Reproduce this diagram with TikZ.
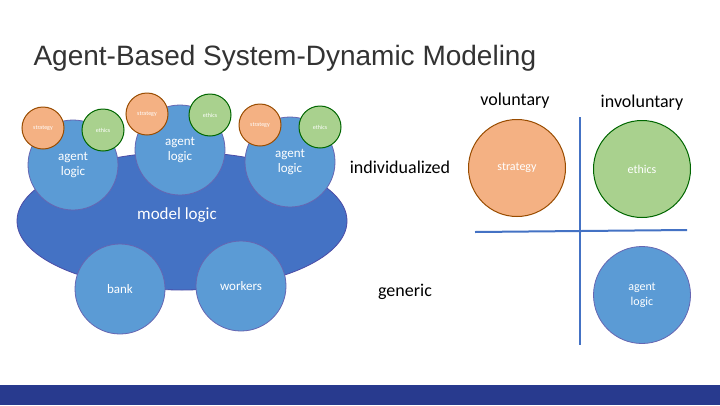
\documentclass[tikz,border=0pt]{standalone}
\usepackage{fontspec}
\usetikzlibrary{shapes.geometric}
\setmainfont{Carlito}
\newfontfamily\titlefont{Liberation Sans}
\begin{document}
\begin{tikzpicture}[x=1pt,y=-1pt,
  blu/.style={circle,draw=blue!50!black!60,fill=bluef,line width=0.8pt,text=white,align=center,inner sep=0pt},
  org/.style={circle,draw=orange!60!black,fill=orangef,line width=1pt,text=white,inner sep=0pt},
  grn/.style={circle,draw=green!40!black,fill=greenf,line width=1pt,text=white,inner sep=0pt},
  lab/.style={font=\fontsize{18}{20}\selectfont,text=black},
  axis/.style={draw=axisc,line width=2pt}]
\definecolor{bluef}{HTML}{5B9BD5}
\definecolor{darkf}{HTML}{4472C4}
\definecolor{orangef}{HTML}{F4B183}
\definecolor{greenf}{HTML}{A9D18E}
\definecolor{axisc}{HTML}{4472C4}
\definecolor{barc}{HTML}{283A8E}
\useasboundingbox (0,0) rectangle (720,405);
\fill[white] (0,0) rectangle (720,405);
\node[anchor=west,font=\titlefont\fontsize{28}{32}\selectfont,text=black!80] (title) at (30,58) {Agent-Based System-Dynamic Modeling};
% model
\node[ellipse,draw=blue!50!black!70,fill=darkf,minimum width=330pt,minimum height=138pt,inner sep=0pt,line width=0.8pt] (model) at (182,221) {};
\node[text=white,font=\fontsize{17}{19}\selectfont] (mlab) at (177,215) {model logic};
\node[blu,minimum size=90pt,font=\fontsize{13}{14}\selectfont] (bank) at (120,289) {bank};
\node[blu,minimum size=90pt,font=\fontsize{13}{14}\selectfont] (workers) at (241,286) {workers};
\node[blu,minimum size=90pt,font=\fontsize{13}{15}\selectfont] (a1) at (73,165) {agent\\logic};
\node[blu,minimum size=90pt,font=\fontsize{13}{15}\selectfont] (a2) at (180,150) {agent\\logic};
\node[blu,minimum size=90pt,font=\fontsize{13}{15}\selectfont] (a3) at (290,162) {agent\\logic};
\foreach \n/\x/\y in {s1/43/128,s2/147/114,s3/260/125}
  \node[org,minimum size=42pt,font=\fontsize{6}{7}\selectfont] (\n) at (\x,\y) {strategy};
\foreach \n/\x/\y in {e1/103/130,e2/210/115,e3/320/127}
  \node[grn,minimum size=42pt,font=\fontsize{6}{7}\selectfont] (\n) at (\x,\y) {ethics};
% matrix
\coordinate (vt) at (580,117);
\coordinate (vb) at (580,345);
\coordinate (hl) at (475,232);
\coordinate (hr) at (687,230);
\draw[axis] (vt) -- (vb);
\draw[axis] (hl) -- (hr);
\node[org,minimum size=97pt,font=\fontsize{12}{13}\selectfont] (bs) at (517,168) {strategy};
\node[grn,minimum size=97pt,font=\fontsize{12}{13}\selectfont] (be) at (642,169) {ethics};
\node[blu,minimum size=97pt,font=\fontsize{12}{15}\selectfont] (ba) at (642,295) {agent\\logic};
\node[lab] (vol) at (515,101) {voluntary};
\node[lab] (inv) at (642,103) {involuntary};
\node[lab] (ind) at (400,167) {individualized};
\node[lab] (gen) at (405,292) {generic};
\fill[barc] (0,385) rectangle (720,405);
\end{tikzpicture}
\end{document}
